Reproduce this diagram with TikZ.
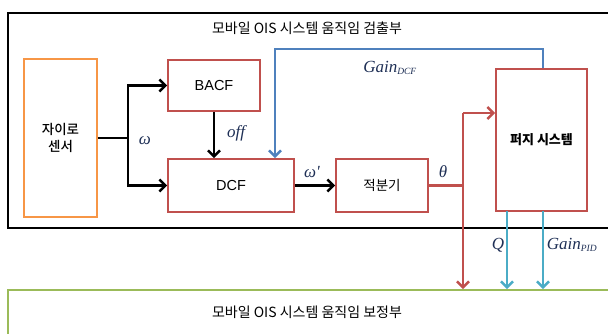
\documentclass[tikz,border=0pt]{standalone}
\usepackage{fontspec}
\setmainfont{Liberation Sans}
\newfontfamily\kr{Noto Sans CJK KR}
\newfontfamily\krm{Noto Sans CJK KR Medium}
\newfontfamily\symf{Liberation Serif}
\usetikzlibrary{arrows.meta}
\definecolor{boxorange}{HTML}{F79646}
\definecolor{boxred}{HTML}{C0504D}
\definecolor{fbblue}{HTML}{4F81BD}
\definecolor{outcyan}{HTML}{4BACC6}
\definecolor{boxgreen}{HTML}{9BBB59}
\definecolor{labelnavy}{HTML}{1F3056}
\tikzset{
  block/.style={draw, line width=1.8pt, inner sep=0pt, align=center},
  redbox/.style={block, draw=boxred},
  flow/.style={line width=2.4pt, -{Straight Barb[length=6pt,width=12pt]}},
  plain/.style={line width=2.4pt},
  ktext/.style={font=\kr\fontsize{13.5}{16}\selectfont},
  ltext/.style={font=\fontsize{14.5}{16}\selectfont},
  sym/.style={font=\symf\itshape\fontsize{17}{19}\selectfont, inner sep=0pt, text=labelnavy},
}
\begin{document}
\begin{tikzpicture}[x=1pt, y=-1pt]
\useasboundingbox (0,0) rectangle (608,333);
\clip (0,0) rectangle (608,333);
\fill[white] (0,0) rectangle (608,333);

% outer frames
\node[draw=black, line width=2pt, minimum width=660pt, minimum height=215pt,
      anchor=north west] (detect) at (7,12) {};
\node[draw=boxgreen, line width=2pt, minimum width=660pt, minimum height=80pt,
      anchor=north west] (comp) at (7,289) {};
\node[ktext, font=\kr\fontsize{14}{16}\selectfont] (dtitle) at (307,28) {모바일 OIS 시스템 움직임 검출부};
\node[ktext, font=\kr\fontsize{14}{16}\selectfont] (ctitle) at (307,312) {모바일 OIS 시스템 움직임 보정부};

% blocks
\node[block, draw=boxorange, minimum width=73pt, minimum height=158pt,
      font=\krm\fontsize{13.5}{17.5}\selectfont] (gyro) at (60.5,138) {자이로\\센서};
\node[redbox, minimum width=92pt, minimum height=51pt, ltext] (bacf) at (214,85.5) {BACF};
\node[redbox, minimum width=126pt, minimum height=53pt, ltext] (dcf) at (231,185.5) {DCF};
\node[redbox, minimum width=92pt, minimum height=53pt, ktext] (integ) at (382,185.5) {적분기};
\node[redbox, minimum width=91pt, minimum height=142pt,
      font=\kr\bfseries\fontsize{13}{15}\selectfont] (fuzzy) at (541.5,140) {퍼지 시스템};

% junction points
\coordinate (split) at (128,138);
\coordinate (fb) at (275,49);
\coordinate (tj) at (463,185.5);
\coordinate (tt) at (463,113);
\coordinate (qs) at (507,211);
\coordinate (gs) at (543,211);

% gyro output to BACF and DCF
\draw[plain] (gyro.east) -- (split);
\draw[flow] (split) |- (bacf.west);
\draw[flow] (split) |- (dcf.west);
\draw[flow] (bacf.south) -- (bacf.south |- dcf.north);
\draw[flow] (dcf.east) -- (integ.west);

% feedback gain from the fuzzy system to DCF
\draw[flow, draw=fbblue] (fuzzy.north -| gs) |- (fb) -- (fb |- dcf.north);

% angle output
\draw[plain, draw=boxred] (integ.east) -- (tj);
\draw[flow, draw=boxred] (tt) -- (tt |- comp.north);
\draw[flow, draw=boxred] (tt) -- (tt -| fuzzy.west);

% fuzzy system outputs
\draw[flow, draw=outcyan] (qs) -- (qs |- comp.north);
\draw[flow, draw=outcyan] (gs) -- (gs |- comp.north);

% signal labels
\node[sym] (lw) at (145,141) {ω};
\node[sym] (loff) at (236,133) {off};
\node[sym] (lgd) at (390,68) {Gain\textsubscript{\fontsize{9.5}{10}\selectfont DCF}};
\node[sym] (lwp) at (312,172) {ω'};
\node[sym] (lth) at (443,172) {θ};
\node[sym] (lq) at (498,245) {Q};
\node[sym] (lgp) at (572,245) {Gain\textsubscript{\fontsize{9.5}{10}\selectfont PID}};
\end{tikzpicture}
\end{document}
